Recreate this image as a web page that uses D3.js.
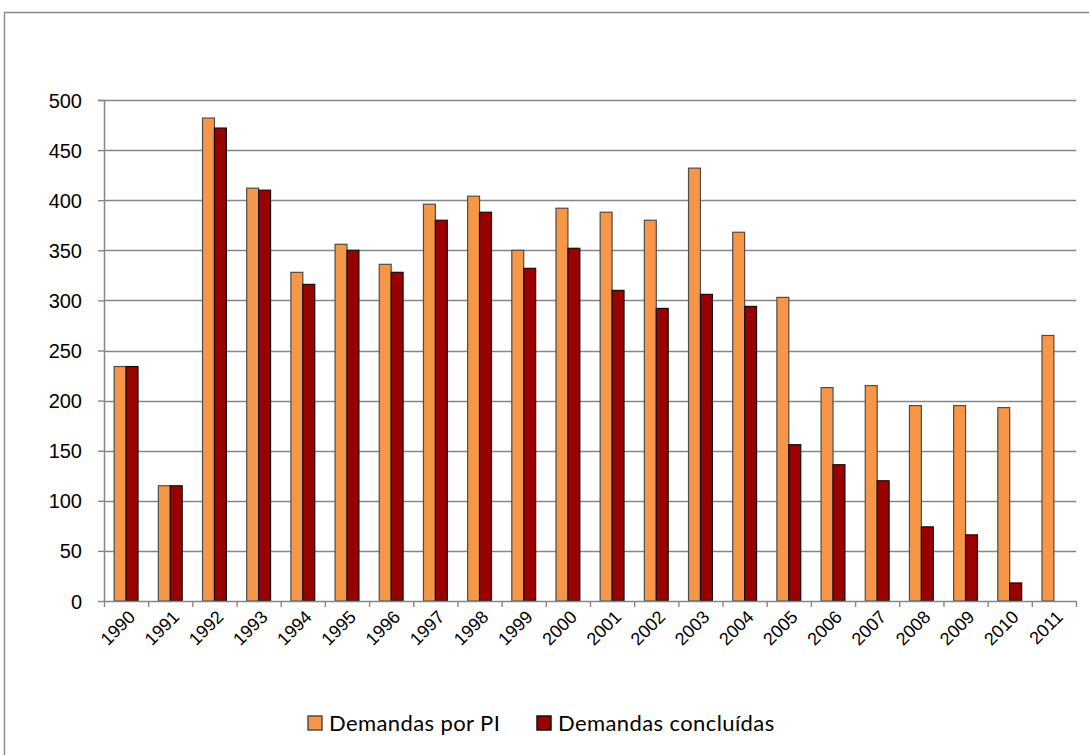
<!DOCTYPE html>
<html>
<head>
<meta charset="utf-8">
<script src="https://cdn.jsdelivr.net/npm/d3@7"></script>
<style>
  body { margin: 0; background: #fff; }
  svg { display: block; font-family: Lato, "Open Sans", sans-serif; }
</style>
</head>
<body>
<svg></svg>
<script>
// Data
var years = ["1990","1991","1992","1993","1994","1995","1996","1997","1998","1999","2000",
             "2001","2002","2003","2004","2005","2006","2007","2008","2009","2010","2011"];
var demandasPI = [234, 115, 482, 412, 328, 356, 336, 396, 404, 350, 392,
                  388, 380, 432, 368, 303, 213, 215, 195, 195, 193, 265];
var demandasConcluidas = [234, 115, 472, 410, 316, 350, 328, 380, 388, 332, 352,
                          310, 292, 306, 294, 156, 136, 120, 74, 66, 18, 0];
var seriesNames = ["Demandas por PI", "Demandas concluídas"];
var yTicks = [0, 50, 100, 150, 200, 250, 300, 350, 400, 450, 500];

var W = 1089, H = 755;
var margin = {top: 100, right: 13, bottom: 154, left: 104},
    width = W - margin.left - margin.right,
    height = H - margin.top - margin.bottom;

var svg = d3.select("svg").attr("width", W).attr("height", H);

// outer chart frame (runs off the right and bottom edge)
svg.append("rect")
    .attr("x", 4.5).attr("y", 12.5)
    .attr("width", W + 20).attr("height", H + 20)
    .attr("fill", "none")
    .attr("stroke", "#8c8c8c")
    .attr("stroke-width", 1.5);

var g = svg.append("g")
    .attr("transform", `translate(${margin.left},${margin.top})`);

var x = d3.scaleBand().domain(years).range([0, width]).paddingInner(0).paddingOuter(0);
var x1 = d3.scaleBand().domain([0, 1]).range([x.bandwidth() * 0.23, x.bandwidth() * 0.77]);
var y = d3.scaleLinear().domain([0, 500]).range([height, 0]);

var color = ["#f79646", "#990000"];
var strokeCol = ["#4d4d4d", "#111"];

// gridlines
g.append("g").selectAll("line")
    .data(yTicks.filter(d => d > 0))
    .join("line")
    .attr("x1", 0).attr("x2", width)
    .attr("y1", d => Math.round(y(d)) + 0.5).attr("y2", d => Math.round(y(d)) + 0.5)
    .attr("stroke", "#868686")
    .attr("stroke-width", 1.4);

// bars
var rows = years.map((yr, i) => ({year: yr, vals: [demandasPI[i], demandasConcluidas[i]]}));
var grp = g.append("g").selectAll("g")
    .data(rows)
    .join("g")
    .attr("transform", d => `translate(${x(d.year)},0)`);

grp.selectAll("rect")
    .data(d => d.vals.map((v, k) => ({k: k, v: v})).filter(e => e.v > 0))
    .join("rect")
    .attr("x", d => x1(d.k))
    .attr("width", x1.bandwidth())
    .attr("y", d => y(d.v))
    .attr("height", d => height - y(d.v))
    .attr("fill", d => color[d.k])
    .attr("stroke", d => strokeCol[d.k])
    .attr("stroke-width", 1.2);

// y axis
var yAxis = g.append("g")
    .call(d3.axisLeft(y).tickValues(yTicks).tickSize(6).tickPadding(16));
yAxis.select(".domain").attr("stroke", "#868686").attr("stroke-width", 1.5).attr("d", `M-6,0.5H0.5V${height}`);
yAxis.selectAll(".tick line").attr("stroke", "#868686").attr("stroke-width", 1.4);
yAxis.selectAll(".tick text").attr("font-size", 20).attr("fill", "#000").attr("dy", "0.35em");

// x axis
var xAxis = g.append("g")
    .attr("transform", `translate(0,${height})`)
    .call(d3.axisBottom(x).tickSize(0).tickFormat(d => d));
xAxis.select(".domain").attr("stroke", "#868686").attr("stroke-width", 1.5).attr("d", `M0,0.5H${width}`);
xAxis.selectAll(".tick text")
    .attr("font-size", 18)
    .attr("fill", "#000")
    .attr("text-anchor", "end")
    .attr("dy", 0)
    .attr("transform", "translate(8,15) rotate(-45)");

// x tick marks at category boundaries
g.append("g").selectAll("line")
    .data(years.concat(["end"]))
    .join("line")
    .attr("x1", (d, i) => i * x.step() + 0.5).attr("x2", (d, i) => i * x.step() + 0.5)
    .attr("y1", height).attr("y2", height + 6)
    .attr("stroke", "#868686")
    .attr("stroke-width", 1.4);

// legend
var legend = svg.append("g").attr("transform", "translate(308,716)");
var legX = [0, 229];
seriesNames.forEach((name, k) => {
    legend.append("rect")
        .attr("x", legX[k]).attr("y", 0)
        .attr("width", 14).attr("height", 14)
        .attr("fill", color[k])
        .attr("stroke", strokeCol[k])
        .attr("stroke-width", 1.5);
    legend.append("text")
        .attr("x", legX[k] + 21).attr("y", 15)
        .attr("font-size", 22)
        .attr("letter-spacing", 0.4)
        .attr("fill", "#000")
        .text(name);
});
</script>
</body>
</html>
